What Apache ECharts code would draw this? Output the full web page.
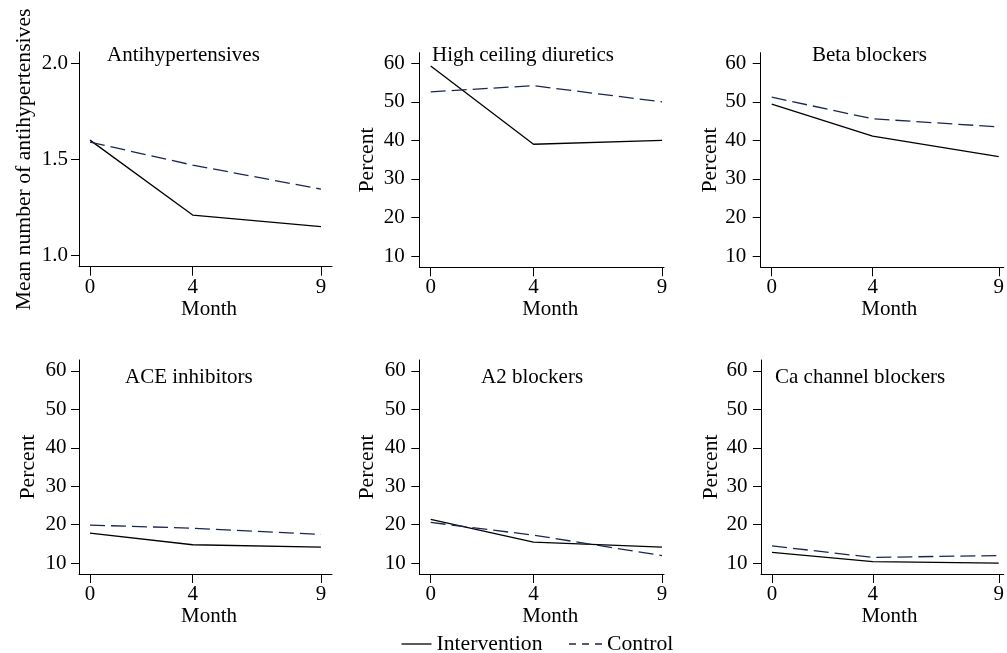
<!DOCTYPE html>
<html>
<head>
<meta charset="utf-8">
<script src="https://cdn.jsdelivr.net/npm/echarts@6/dist/echarts.min.js"></script>
<style>
html,body{margin:0;padding:0;background:#fff;}
#c{width:1007px;height:653px;}
</style>
</head>
<body>
<div id="c"></div>
<script>
// ---- data ----
const months = [0, 4, 9];
const monthTicks = [0, 4, 9];
const titles = ['Antihypertensives', 'High ceiling diuretics', 'Beta blockers', 'ACE inhibitors', 'A2 blockers', 'Ca channel blockers'];
const yNames = ['Mean number of antihypertensives', 'Percent', 'Percent', 'Percent', 'Percent', 'Percent'];
const meanTicks = [1.0, 1.5, 2.0];
const pctTicks = [10, 20, 30, 40, 50, 60];
const antihypIntervention = [1.60, 1.21, 1.15];
const antihypControl = [1.59, 1.47, 1.345];
const hcdIntervention = [59.3, 39.0, 40.0];
const hcdControl = [52.6, 54.2, 50.0];
const betaIntervention = [49.4, 41.1, 35.8];
const betaControl = [51.2, 45.6, 43.5];
const aceIntervention = [17.8, 14.8, 14.2];
const aceControl = [19.9, 19.1, 17.5];
const a2Intervention = [21.4, 15.5, 14.2];
const a2Control = [20.6, 17.3, 12.0];
const caIntervention = [12.8, 10.4, 10.0];
const caControl = [14.5, 11.5, 12.0];

const interventionSets = [antihypIntervention, hcdIntervention, betaIntervention, aceIntervention, a2Intervention, caIntervention];
const controlSets = [antihypControl, hcdControl, betaControl, aceControl, a2Control, caControl];

// ---- layout ----
const FONT = 'Liberation Serif';
const FS = 21;
const grids = [
  {left: 79, top: 52, width: 253, height: 214.7},
  {left: 419.3, top: 52.7, width: 244.7, height: 214.6},
  {left: 760.7, top: 52.7, width: 248.5, height: 214.6},
  {left: 79, top: 360, width: 253, height: 214},
  {left: 419.3, top: 360, width: 244.7, height: 214},
  {left: 761, top: 360, width: 248, height: 214}
];
const xRanges = [[-0.4286, 9.43], [-0.4436, 9.078], [-0.438, 9.2], [-0.4286, 9.43], [-0.4436, 9.078], [-0.438, 9.2]];
const yRanges = [[0.941, 2.059], [7.07, 62.75], [7.07, 62.75], [7.2, 62.8], [7.2, 62.8], [7.2, 62.8]];
const monthShift = [7, 17, 14, 7, 17, 14];
const yLabelMargin = [11, 14.5, 14.5, 12.5, 13.5, 13.5];
const yNameGap = [44, 41, 38, 40, 41, 39];
const titlePos = [[107, 45], [432, 45], [812, 45], [125, 367], [481, 367], [775, 367]];

const axisLineStyle = {color: '#000', width: 1};
const txt = {color: '#000', fontFamily: FONT, fontSize: FS};
const nameTxt = {color: '#000', fontFamily: FONT, fontSize: 21.7};
const CTRL = '#1b2552';

const xAxis = [], yAxis = [], series = [], title = [];
for (let i = 0; i < 6; i++) {
  xAxis.push({
    gridIndex: i, type: 'value', min: xRanges[i][0], max: xRanges[i][1],
    splitLine: {show: false},
    axisLine: {show: true, onZero: false, lineStyle: axisLineStyle},
    axisTick: {show: true, length: 9, customValues: monthTicks, lineStyle: axisLineStyle},
    axisLabel: Object.assign({margin: 10, customValues: monthTicks}, txt),
    name: 'Month', nameLocation: 'middle', nameGap: 30,
    nameTextStyle: Object.assign({padding: [0, 0, 0, monthShift[i]]}, txt)
  });
  const ticks = i === 0 ? meanTicks : pctTicks;
  yAxis.push({
    gridIndex: i, type: 'value', min: yRanges[i][0], max: yRanges[i][1],
    splitLine: {show: false},
    axisLine: {show: true, onZero: false, lineStyle: axisLineStyle},
    axisTick: {show: true, length: 8, customValues: ticks, lineStyle: axisLineStyle},
    axisLabel: Object.assign({margin: yLabelMargin[i], customValues: ticks,
      formatter: v => i === 0 ? v.toFixed(1) : String(v)}, txt),
    name: yNames[i], nameLocation: 'middle', nameGap: yNameGap[i],
    nameTextStyle: nameTxt
  });
  series.push({
    name: 'Intervention', type: 'line', xAxisIndex: i, yAxisIndex: i,
    data: months.map((m, k) => [m, interventionSets[i][k]]),
    symbol: 'none', lineStyle: {color: '#000', width: 1.3, type: 'solid'},
    itemStyle: {color: '#000'}, silent: true
  });
  series.push({
    name: 'Control', type: 'line', xAxisIndex: i, yAxisIndex: i,
    data: months.map((m, k) => [m, controlSets[i][k]]),
    symbol: 'none', lineStyle: {color: CTRL, width: 1.3, type: [15, 6]},
    itemStyle: {color: CTRL}, silent: true
  });
  title.push({
    text: titles[i], left: titlePos[i][0], top: titlePos[i][1], padding: 0,
    textStyle: Object.assign({fontWeight: 'normal'}, txt)
  });
}

const chart = echarts.init(document.getElementById('c'), null, {renderer: 'canvas'});
chart.setOption({
  backgroundColor: '#fff',
  animation: false,
  title: title,
  grid: grids.map(g => Object.assign({containLabel: false}, g)),
  xAxis: xAxis,
  yAxis: yAxis,
  legend: [
    {data: [{name: 'Intervention', icon: 'rect', itemStyle: {color: '#000', borderWidth: 0}}],
     left: 401.5, top: 633, itemWidth: 30, itemHeight: 1.3, symbolKeepAspect: false,
     padding: 0, textStyle: nameTxt, selectedMode: false},
    {data: [{name: 'Control', icon: 'path://M0,0h7v1h-7z M13,0h7v1h-7z M26,0h7v1h-7z', itemStyle: {color: CTRL, borderWidth: 0}}],
     left: 569, top: 633, itemWidth: 33, itemHeight: 1.3, symbolKeepAspect: false,
     padding: 0, textStyle: nameTxt, selectedMode: false}
  ],
  series: series
});
</script>
</body>
</html>
